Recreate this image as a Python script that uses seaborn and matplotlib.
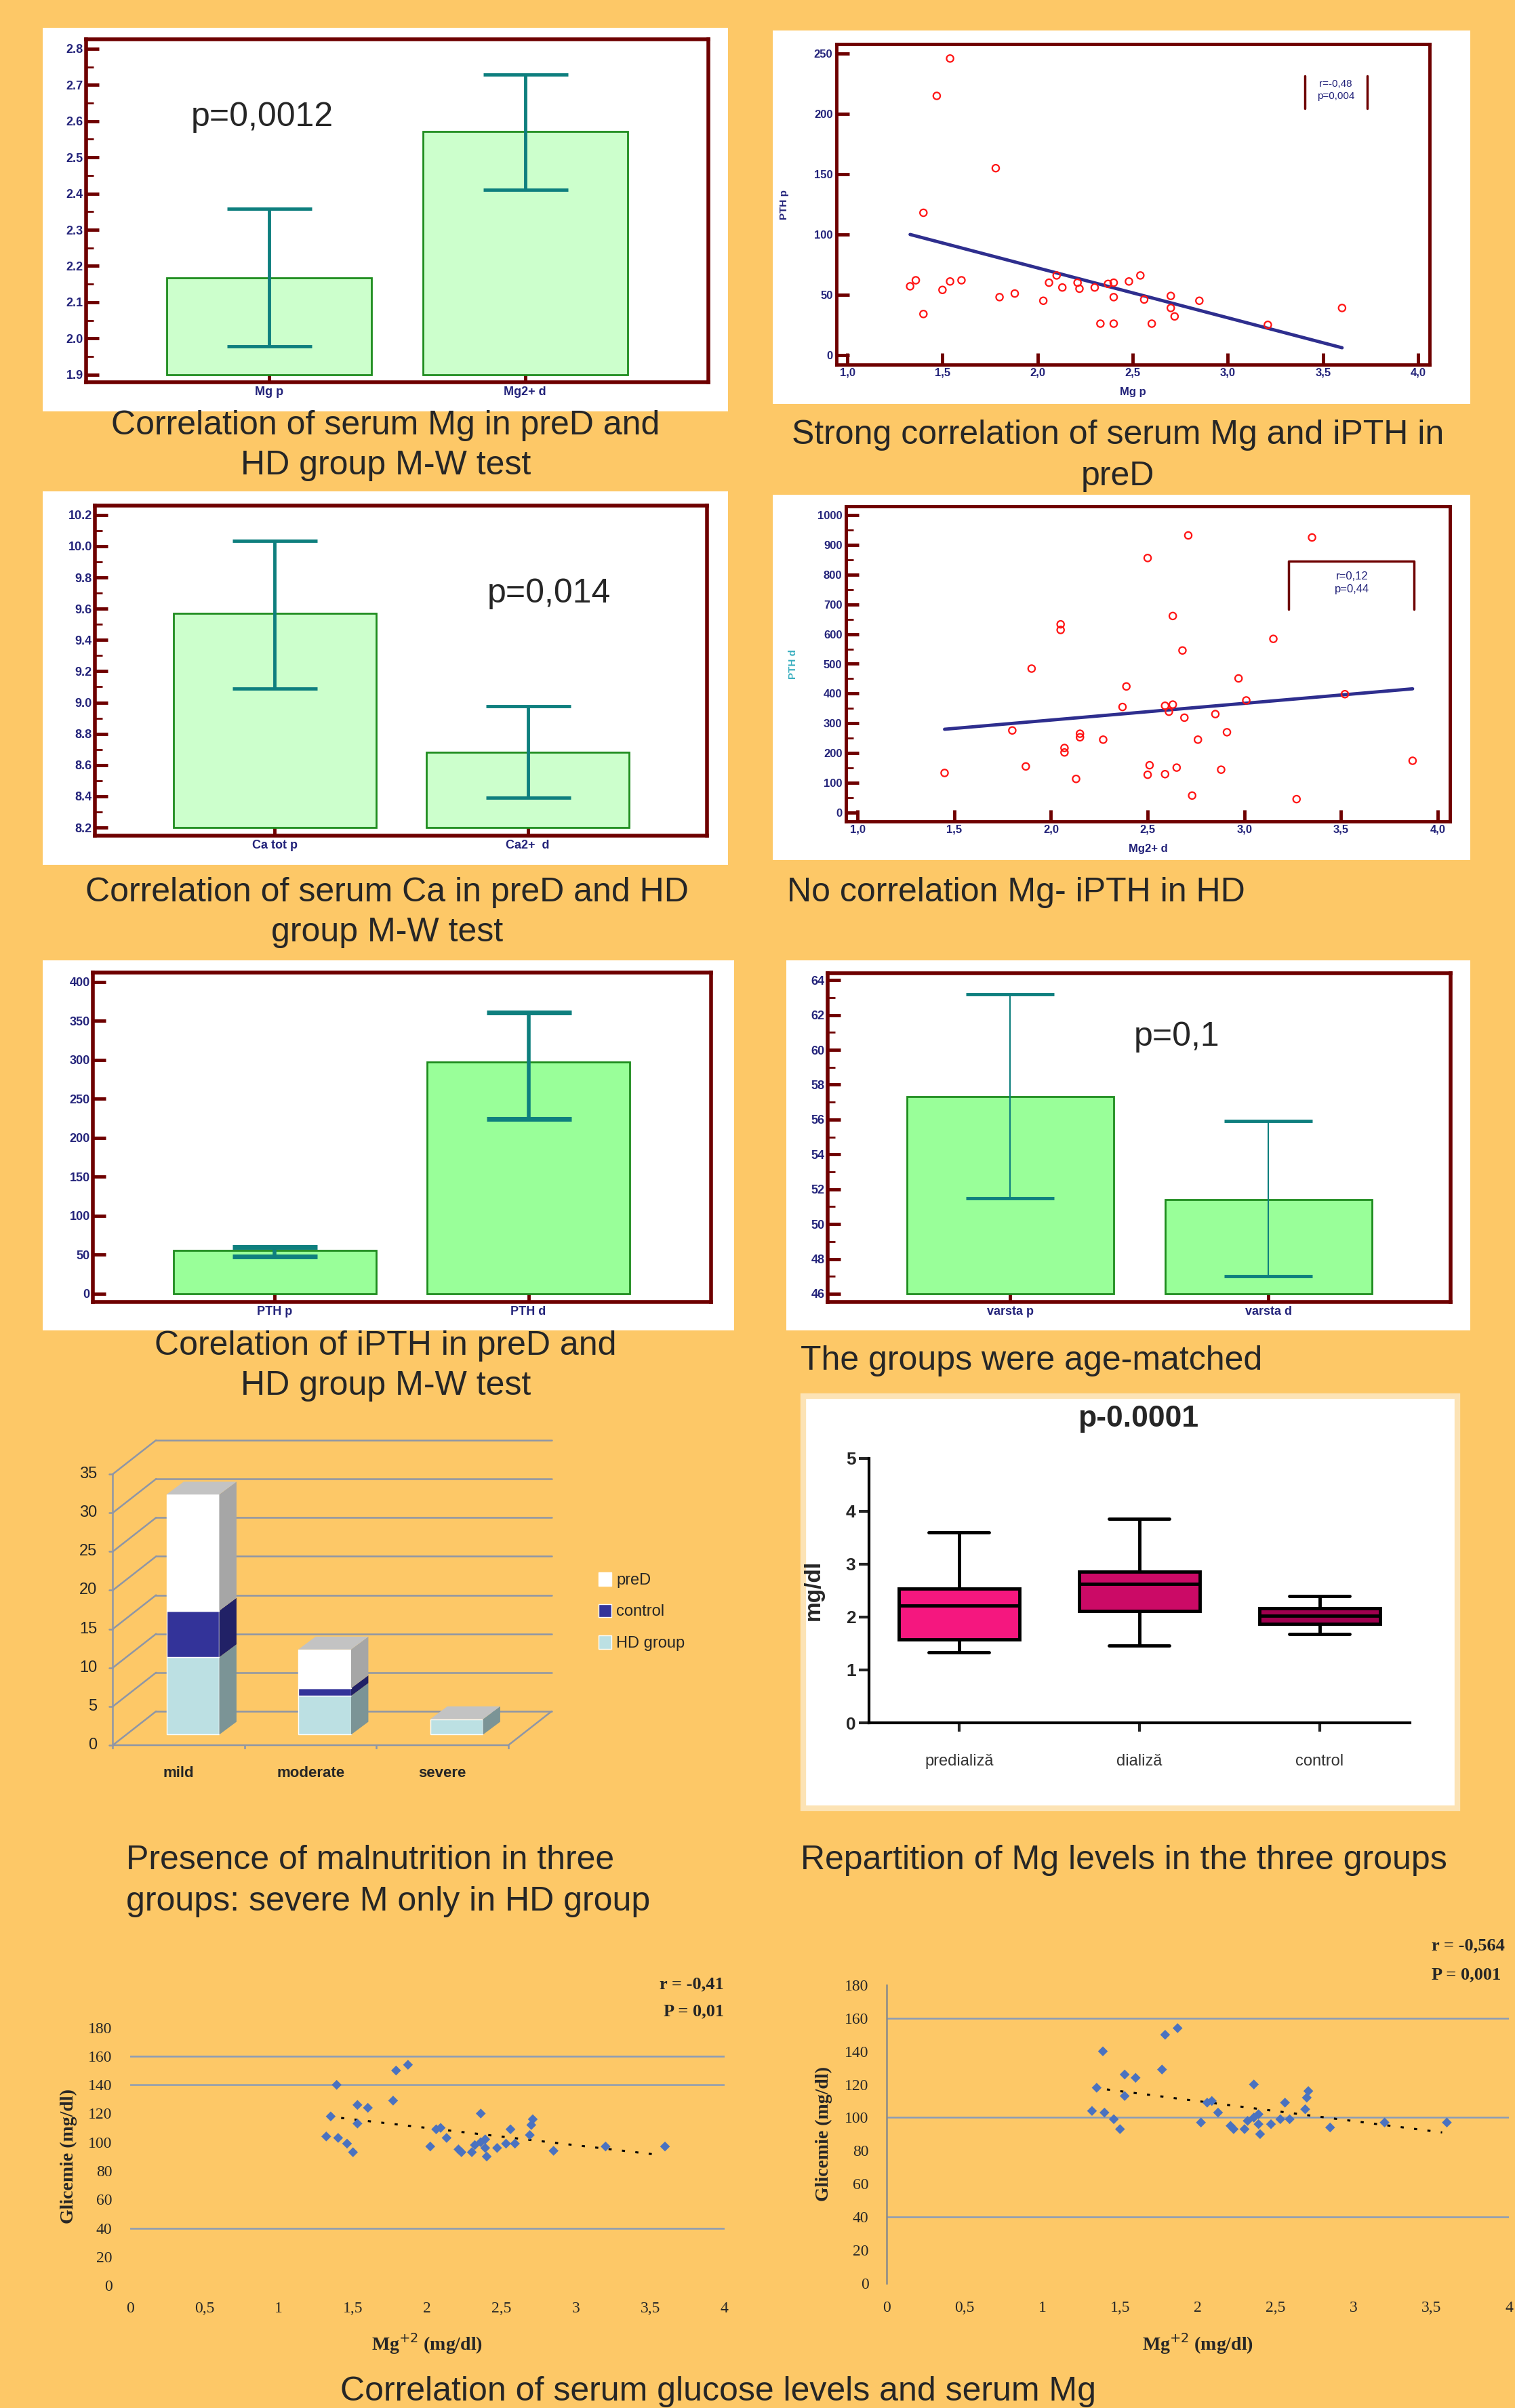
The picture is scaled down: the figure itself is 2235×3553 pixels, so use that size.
import numpy as np
import pandas as pd
import seaborn as sns
import matplotlib.pyplot as plt
from matplotlib.patches import Rectangle, Polygon, Patch
from matplotlib.ticker import MultipleLocator, FuncFormatter

sns.set_style('white')
plt.rcParams['font.family'] = ['Liberation Sans', 'DejaVu Sans']

W, H = 2235, 3553
BG = '#FDC867'
FRAME = '#6E0000'
NAVY = '#23237A'
TEAL = '#0E7F7E'
SERIF = ['Liberation Serif', 'DejaVu Serif']

# ---------------- values read from the poster ----------------
mg_groups = ['Mg p', 'Mg2+ d']
mg_mean = [2.168, 2.572]
mg_low = [1.978, 2.41]
mg_high = [2.358, 2.728]

ca_groups = ['Ca tot p', 'Ca2+  d']
ca_mean = [9.57, 8.68]
ca_low = [9.09, 8.39]
ca_high = [10.035, 8.975]

pth_groups = ['PTH p', 'PTH d']
pth_mean = [55, 297]
pth_low = [47.5, 224]
pth_high = [60, 361]

age_groups = ['varsta p', 'varsta d']
age_mean = [57.3, 51.4]
age_low = [51.5, 47.0]
age_high = [63.2, 55.9]

# serum Mg vs iPTH, preD group
pred_mg = [1.54, 1.47, 1.78, 1.40, 1.33, 1.36, 1.50, 1.54, 1.60, 1.40,
           1.80, 1.88, 2.03, 2.06, 2.10, 2.13, 2.21, 2.22, 2.30, 2.37,
           2.40, 2.40, 2.33, 2.40, 2.48, 2.54, 2.56, 2.60, 2.70, 2.70,
           2.72, 2.85, 3.21, 3.60]
pred_pth = [246, 215, 155, 118, 57, 62, 54, 61, 62, 34,
            48, 51, 45, 60, 66, 56, 60, 55, 56, 59,
            60, 48, 26, 26, 61, 66, 46, 26, 49, 39,
            32, 45, 25, 39]
pred_fit_x = [1.33, 3.60]
pred_fit_y = [100, 6]

# serum Mg vs iPTH, HD group
hd_mg = [2.71, 3.35, 2.50, 2.63, 2.05, 2.05, 3.15, 2.68, 1.90, 2.97,
         2.39, 3.01, 3.52, 2.37, 2.59, 2.63, 2.61, 2.69, 2.85, 2.91,
         1.80, 2.15, 2.15, 2.27, 2.76, 2.07, 2.07, 1.45, 1.87, 2.13,
         2.51, 2.50, 2.59, 2.65, 2.88, 2.73, 3.27, 3.87]
hd_pth = [932, 925, 856, 661, 633, 614, 584, 545, 484, 451,
          424, 377, 398, 355, 359, 363, 339, 319, 331, 270,
          276, 265, 253, 245, 245, 217, 202, 133, 155, 113,
          159, 127, 129, 151, 144, 57, 45, 174]
hd_fit_x = [1.45, 3.87]
hd_fit_y = [280, 416]

# malnutrition counts
maln_cats = ['mild', 'moderate', 'severe']
maln_hd = [10, 5, 2]
maln_control = [6, 1, 0]
maln_pred = [15, 5, 0]

# Mg five-number summaries
box_groups = ['predializă', 'dializă', 'control']
box_min = [1.33, 1.46, 1.68]
box_q1 = [1.58, 2.11, 1.87]
box_med = [2.22, 2.62, 2.02]
box_q3 = [2.54, 2.85, 2.16]
box_max = [3.60, 3.86, 2.40]
box_colors = ['#F5177F', '#CB0A66', '#A0004F']

# glucose vs Mg
glu_mg = [1.87, 1.79, 1.39, 1.77, 1.53, 1.60, 2.36, 1.35, 2.71, 2.70,
          1.53, 2.09, 2.06, 2.56, 2.69, 1.32, 1.40, 2.13, 2.39, 1.46,
          2.53, 2.59, 2.02, 2.32, 2.36, 3.20, 3.60, 2.21, 2.39, 2.47,
          2.23, 2.30, 2.85, 1.50, 2.40]
glu_val = [154, 150, 140, 129, 126, 124, 120, 118, 116, 112,
           113, 110, 109, 109, 105, 104, 103, 103, 102, 99,
           99, 99, 97, 98, 100, 97, 97, 95, 96, 96,
           93, 93, 94, 93, 90]
glu_fit_x = [1.33, 3.57]
glu_fit_y = [118, 91]

fig = plt.figure(figsize=(W / 100, H / 100), dpi=100, facecolor=BG)


def px_axes(x0, y0, x1, y1):
    return fig.add_axes([x0 / W, 1 - y1 / H, (x1 - x0) / W, (y1 - y0) / H])


def white_panel(x0, y0, x1, y1, edge='none'):
    fig.add_artist(Rectangle((x0 / W, 1 - y1 / H), (x1 - x0) / W, (y1 - y0) / H,
                             transform=fig.transFigure, facecolor='white',
                             edgecolor=edge, linewidth=6, zorder=-1))


def ftext(x, y, s, **kw):
    kw.setdefault('ha', 'center')
    kw.setdefault('va', 'center')
    kw.setdefault('fontsize', 36)
    fig.text(x / W, 1 - y / H, s, **kw)


def frame_style(ax, lw=4):
    ax.set_facecolor('white')
    for s in ax.spines.values():
        s.set_visible(True)
        s.set_color(FRAME)
        s.set_linewidth(lw)
    ax.tick_params(axis='y', which='major', direction='in', length=14, width=3.5,
                   color=FRAME, labelcolor=NAVY, labelsize=13, pad=3, left=True)
    ax.tick_params(axis='y', which='minor', direction='in', length=8, width=2,
                   color=FRAME, left=True)
    ax.tick_params(axis='x', direction='in', length=10, width=3.5, color=FRAME,
                   labelcolor=NAVY, labelsize=13, pad=4, bottom=True)
    for lab in ax.get_xticklabels() + ax.get_yticklabels():
        lab.set_fontweight('bold')
    ax.set_xlabel('')
    ax.set_ylabel('')


def bar_panel(rect, groups, mean, low, high, base, ylim, xlim, major, minor, fmt,
              fill, err_lw, cap_lw, cap):
    ax = px_axes(*rect)
    heights = [m - base for m in mean]
    sns.barplot(x=groups, y=heights, bottom=base, color=fill, saturation=1, width=0.8,
                edgecolor='#1E8C1E', linewidth=2, errorbar=None, ax=ax)
    yerr = [np.subtract(mean, low), np.subtract(high, mean)]
    ax.errorbar(np.arange(len(groups)), mean, yerr=yerr, fmt='none', ecolor=TEAL,
                elinewidth=err_lw, capsize=cap, capthick=cap_lw, zorder=4)
    ax.set_xlim(*xlim)
    ax.set_ylim(*ylim)
    ax.yaxis.set_major_locator(MultipleLocator(major))
    if minor:
        ax.yaxis.set_minor_locator(MultipleLocator(minor))
    ax.yaxis.set_major_formatter(FuncFormatter(lambda v, p: fmt.format(v)))
    frame_style(ax)
    return ax


def scatter_panel(rect, x, y, fit_x, fit_y, xlim, ylim, major, minor, xlabel, ylabel, ylab_col):
    ax = px_axes(*rect)
    sns.scatterplot(x=x, y=y, marker='o', s=55, facecolor='none', edgecolor='#FF1414',
                    linewidth=1.6, ax=ax, zorder=3)
    sns.lineplot(x=fit_x, y=fit_y, color='#2E2E8E', linewidth=3.5, sort=False,
                 estimator=None, ax=ax, zorder=2)
    ax.set_xlim(*xlim)
    ax.set_ylim(*ylim)
    ax.xaxis.set_major_locator(MultipleLocator(0.5))
    ax.xaxis.set_major_formatter(FuncFormatter(lambda v, p: f'{v:.1f}'.replace('.', ',')))
    ax.yaxis.set_major_locator(MultipleLocator(major))
    if minor:
        ax.yaxis.set_minor_locator(MultipleLocator(minor))
    ax.tick_params(axis='x', which='both', labelsize=12)
    frame_style(ax, lw=3.5)
    ax.tick_params(axis='x', length=12, labelsize=12, pad=3)
    ax.tick_params(axis='y', labelsize=12, pad=4)
    ax.set_xlabel(xlabel, color=NAVY, fontsize=12, fontweight='bold')
    ax.xaxis.set_label_coords(0.5, -0.07)
    ax.set_ylabel(ylabel, color=ylab_col, fontsize=11, fontweight='bold')
    ax.yaxis.set_label_coords(-0.08, 0.5)
    return ax


# ---------------- top four bar panels ----------------
white_panel(63, 41, 1074, 607)
white_panel(1140, 45, 2169, 596)
white_panel(63, 725, 1074, 1276)
white_panel(1140, 730, 2169, 1269)
white_panel(63, 1417, 1083, 1963)
white_panel(1160, 1417, 2169, 1963)

bar_panel((127, 58, 1045, 564), mg_groups, mg_mean, mg_low, mg_high, 1.9,
          (1.879, 2.826), (-0.715, 1.716), 0.1, 0.05, '{:.1f}', '#CCFFCC', 3.5, 3.5, 45)
ftext(387, 173, 'p=0,0012')

bar_panel((140, 746, 1043, 1233), ca_groups, ca_mean, ca_low, ca_high, 8.2,
          (8.148, 10.26), (-0.71, 1.708), 0.2, 0.1, '{:.1f}', '#CCFFCC', 3.5, 3.5, 45)
ftext(810, 876, 'p=0,014')

bar_panel((137, 1435, 1049, 1921), pth_groups, pth_mean, pth_low, pth_high, 0,
          (-10.8, 411.9), (-0.717, 1.72), 50, None, '{:.0f}', '#99FF99', 4, 5, 45)

bar_panel((1221, 1436, 2140, 1921), age_groups, age_mean, age_low, age_high, 46,
          (45.53, 64.4), (-0.707, 1.705), 2, 1, '{:.0f}', '#99FF99', 1.5, 3.5, 47)
ftext(1736, 1530, 'p=0,1')

# ---------------- scatter panels Mg vs iPTH ----------------
ax2 = scatter_panel((1234, 65, 2109, 538), pred_mg, pred_pth, pred_fit_x, pred_fit_y,
                    (0.943, 4.06), (-8, 258), 50, None, 'Mg p', 'PTH p', NAVY)
ax2.plot([0.79, 0.79], [0.80, 0.90], color=FRAME, lw=2.5, transform=ax2.transAxes)
ax2.plot([0.895, 0.895], [0.80, 0.90], color=FRAME, lw=2.5, transform=ax2.transAxes)
ax2.text(0.842, 0.876, 'r=-0,48', transform=ax2.transAxes, ha='center', va='center',
         fontsize=11, color=NAVY)
ax2.text(0.842, 0.838, 'p=0,004', transform=ax2.transAxes, ha='center', va='center',
         fontsize=11, color=NAVY)

ax4 = scatter_panel((1248, 747, 2139, 1212), hd_mg, hd_pth, hd_fit_x, hd_fit_y,
                    (0.94, 4.063), (-30, 1030), 100, 50, 'Mg2+ d', 'PTH d', '#3AAFC0')
ax4.plot([0.733, 0.733, 0.941, 0.941], [0.674, 0.825, 0.825, 0.674], color=FRAME, lw=2.5,
         transform=ax4.transAxes)
ax4.text(0.838, 0.777, 'r=0,12', transform=ax4.transAxes, ha='center', va='center',
         fontsize=12, color=NAVY)
ax4.text(0.838, 0.737, 'p=0,44', transform=ax4.transAxes, ha='center', va='center',
         fontsize=12, color=NAVY)

# ---------------- pseudo 3D stacked bars (malnutrition) ----------------
ax7 = px_axes(147, 2117.8, 837.5, 2580.7)
ax7.set_xlim(-0.1, 3.45)
ax7.set_ylim(-0.5, 40)
ax7.axis('off')
ax7.patch.set_alpha(0)
back_dx, back_dy = 0.328, 4.37
grid_col = '#8E96A6'
for v in range(0, 40, 5):
    ax7.plot([0, back_dx], [v, v + back_dy], color=grid_col, lw=1.8, zorder=1)
    ax7.plot([back_dx, 3 + back_dx], [v + back_dy, v + back_dy], color=grid_col, lw=1.8, zorder=1)
    ax7.plot([-0.03, 0], [v, v], color=grid_col, lw=1.8)
    ax7.text(-0.12, v, str(v), ha='right', va='center', fontsize=17)
ax7.plot([0, 0], [0, 35], color=grid_col, lw=1.8)
ax7.plot([0, 3, 3 + back_dx], [0, 0, back_dy], color=grid_col, lw=1.8)
for t in range(4):
    ax7.plot([t, t], [0, -0.75], color=grid_col, lw=1.8)
for i, c in enumerate(maln_cats):
    ax7.text(i + 0.5, -3.6, c, ha='center', va='center', fontsize=16, fontweight='bold')

series = [maln_hd, maln_control, maln_pred]
seg_cols = [('#BCE0E3', '#7B9496'), ('#333399', '#212166'), ('#FFFFFF', '#A6A6A6')]
bw, shift_x, shift_y, ddx, ddy = 0.4, 0.107, 1.355, 0.131, 1.66
for i in range(len(maln_cats)):
    left = i + 0.5 - bw / 2 + shift_x
    bottom = shift_y
    for vals, (front, side) in zip(series, seg_cols):
        v = vals[i]
        if v == 0:
            continue
        ax7.bar(left, v, width=bw, bottom=bottom, align='edge', color=front, zorder=3)
        ax7.add_patch(Polygon([(left + bw, bottom), (left + bw + ddx, bottom + ddy),
                               (left + bw + ddx, bottom + v + ddy), (left + bw, bottom + v)],
                              closed=True, facecolor=side, edgecolor='none', zorder=3))
        bottom += v
    ax7.add_patch(Polygon([(left, bottom), (left + bw, bottom), (left + bw + ddx, bottom + ddy),
                           (left + ddx, bottom + ddy)], closed=True, facecolor='#C3C3C3',
                          edgecolor='none', zorder=3))

fig.legend(handles=[Patch(facecolor='white', label='preD'),
                    Patch(facecolor='#333399', label='control'),
                    Patch(facecolor='#BCE0E3', label='HD group')],
           loc='center left', bbox_to_anchor=(862 / W, 1 - 2378 / H), frameon=False,
           fontsize=17, handlelength=0.8, handleheight=0.9, handletextpad=0.3,
           labelspacing=1.0)

# ---------------- boxplot of Mg ----------------
white_panel(1185, 2060, 2150, 2668, edge='#FCE3B5')
box_df = pd.DataFrame({
    'group': np.repeat(box_groups, 5),
    'mg': np.column_stack([box_min, box_q1, box_med, box_q3, box_max]).ravel(),
})
ax8 = px_axes(1282, 2151.6, 2079.5, 2542)
sns.boxplot(data=box_df, x='group', y='mg', hue='group', palette=box_colors, legend=False,
            saturation=1, width=0.67, whis=(0, 100), linecolor='black', linewidth=3.5,
            showfliers=False, ax=ax8)
ax8.set_xlim(-0.5, 2.5)
ax8.set_ylim(0, 5)
ax8.set_facecolor('white')
sns.despine(ax=ax8)
for s in ['left', 'bottom']:
    ax8.spines[s].set_linewidth(3)
    ax8.spines[s].set_color('black')
ax8.tick_params(axis='y', direction='out', length=11, width=3, labelsize=19, pad=3, left=True)
ax8.tick_params(axis='x', direction='out', length=9, width=3, labelsize=17, pad=24,
                bottom=True, labelcolor='#333333')
for lab in ax8.get_yticklabels():
    lab.set_fontweight('bold')
ax8.set_xlabel('')
ax8.set_ylabel('mg/dl', fontsize=24, fontweight='bold')
ax8.yaxis.set_label_coords(-0.083, 0.5)
ftext(1679, 2094, 'p-0.0001', fontsize=32, fontweight='bold')


# ---------------- glucose vs Mg ----------------
def glucose_panel(rect, levels, spine, ypad, xpad, xlab_y, ylab_x):
    ax = px_axes(*rect)
    ax.patch.set_alpha(0)
    for g in levels:
        ax.axhline(g, color='#8B9CB6', lw=1.8, zorder=1)
    sns.scatterplot(x=glu_mg, y=glu_val, marker='D', s=55, color='#4A72C0', edgecolor='none',
                    ax=ax, zorder=3)
    sns.lineplot(x=glu_fit_x, y=glu_fit_y, color='black', lw=2.2, linestyle=(0, (1.5, 5)),
                 sort=False, estimator=None, ax=ax, zorder=2)
    ax.set_xlim(0, 4)
    ax.set_ylim(0, 180)
    ax.set_xticks(np.arange(0, 4.01, 0.5))
    ax.set_yticks(np.arange(0, 181, 20))
    ax.xaxis.set_major_formatter(FuncFormatter(lambda v, p: f'{v:g}'.replace('.', ',')))
    for s in ax.spines.values():
        s.set_visible(False)
    if spine:
        ax.spines['left'].set_visible(True)
        ax.spines['left'].set_color('#8A8A8A')
        ax.spines['left'].set_linewidth(1.8)
    ax.tick_params(axis='both', length=0, labelsize=17, labelfontfamily=SERIF[0])
    ax.tick_params(axis='y', pad=ypad)
    ax.tick_params(axis='x', pad=xpad)
    ax.set_xlabel('Mg$^{+2}$ (mg/dl)', fontsize=20, fontweight='bold', family=SERIF)
    ax.xaxis.set_label_coords(0.5, xlab_y)
    ax.set_ylabel('Glicemie (mg/dl)', fontsize=20, fontweight='bold', family=SERIF)
    ax.yaxis.set_label_coords(ylab_x, 0.5)
    return ax


glucose_panel((192, 2991.6, 1068.7, 3372.3), [40, 140, 160], False, 19, 17, -0.178, -0.089)
ftext(1068, 2928, 'r = -0,41', ha='right', fontsize=19, fontweight='bold', family=SERIF)
ftext(1068, 2968, 'P = 0,01', ha='right', fontsize=19, fontweight='bold', family=SERIF)

glucose_panel((1307.9, 2929, 2226.3, 3368.7), [40, 100, 160], True, 19, 19, -0.162, -0.087)
ftext(2112, 2871, 'r = -0,564', ha='left', fontsize=19, fontweight='bold', family=SERIF)
ftext(2112, 2914, 'P = 0,001', ha='left', fontsize=19, fontweight='bold', family=SERIF)

# ---------------- captions ----------------
ftext(569, 628, 'Correlation of serum Mg in preD and')
ftext(569, 687, 'HD group M-W test')
ftext(1649, 642, 'Strong correlation of serum Mg and iPTH in')
ftext(1649, 703, 'preD')
ftext(571, 1317, 'Correlation of serum Ca in preD and HD')
ftext(571, 1376, 'group M-W test')
ftext(1161, 1317, 'No correlation Mg- iPTH in HD', ha='left')
ftext(569, 1986, 'Corelation of iPTH in preD and')
ftext(569, 2045, 'HD group M-W test')
ftext(1181, 2008, 'The groups were age-matched', ha='left')
ftext(186, 2745, 'Presence of malnutrition in three', ha='left')
ftext(186, 2806, 'groups: severe M only in HD group', ha='left')
ftext(1181, 2745, 'Repartition of Mg levels in the three groups', ha='left')
ftext(1059, 3529, 'Correlation of serum glucose levels and serum Mg')

fig.savefig('out.png', dpi=100, facecolor=BG)
